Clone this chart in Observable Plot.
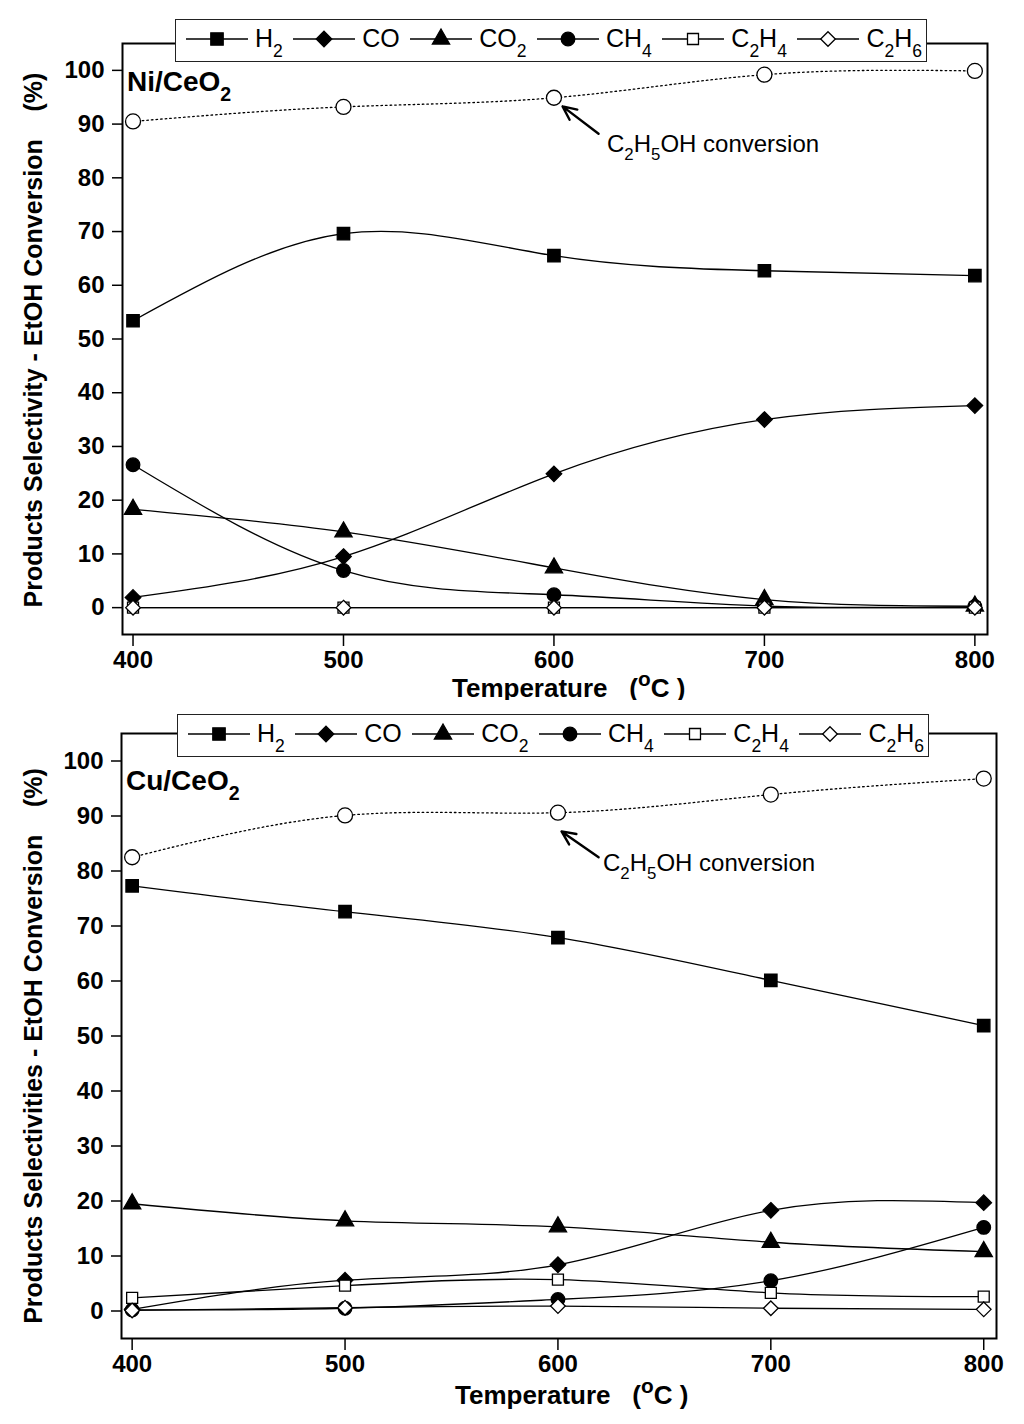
<!DOCTYPE html>
<html>
<head>
<meta charset="utf-8">
<script src="https://cdn.jsdelivr.net/npm/d3@7"></script>
<script src="https://cdn.jsdelivr.net/npm/@observablehq/plot@0.6"></script>
<style>
  body { margin: 0; background: #fff; color: #000; font-family: "Liberation Sans", Arial, sans-serif; }
  #page { position: relative; width: 1024px; height: 1424px; overflow: hidden; background: #fff; }
  .panel { position: absolute; left: 0; width: 1024px; }
  .panel svg { display: block; }
  .txt { position: absolute; line-height: 1; white-space: pre; }
  .sub { position: relative; font-size: 0.7em; top: 0.5em; }
  .sup { position: relative; font-size: 0.8em; top: -0.55em; }
  .legend {
    position: absolute; box-sizing: border-box; height: 43px; width: 752px;
    border: 1.5px solid #222; background: #fff;
    display: flex; align-items: center; justify-content: space-between;
    padding: 0 4px 4px 10px; font-size: 25px;
  }
  .legend .item { display: flex; align-items: center; }
  .legend svg { display: block; overflow: visible; }
  .legend .lab { margin-left: 7px; line-height: 1; white-space: nowrap; }
  .legend .sub { top: 0.55em; }
  .ytitle {
    position: absolute; font-weight: bold; font-size: 25px; line-height: 1; white-space: pre;
    transform: translate(-50%, -50%) rotate(-90deg);
  }
</style>
</head>
<body>
<div id="page"></div>
<script>
// Temperature axis shared by both panels (°C).
const temps = [400, 500, 600, 700, 800];
const xTicks = [400, 500, 600, 700, 800];
const yTicks = [0, 10, 20, 30, 40, 50, 60, 70, 80, 90, 100];

const seriesNames = ["H2", "CO", "CO2", "CH4", "C2H4", "C2H6"];
const seriesLabels = [
  "H<span class=sub>2</span>",
  "CO",
  "CO<span class=sub>2</span>",
  "CH<span class=sub>4</span>",
  "C<span class=sub>2</span>H<span class=sub>4</span>",
  "C<span class=sub>2</span>H<span class=sub>6</span>"
];

// Ni/CeO2 selectivities (%)
const niH2 = [53.4, 69.6, 65.5, 62.7, 61.8];
const niCO = [1.9, 9.5, 24.9, 35.0, 37.6];
const niCO2 = [18.3, 14.1, 7.4, 1.5, 0.3];
const niCH4 = [26.6, 6.9, 2.4, 0.3, 0.2];
const niC2H4 = [0, 0, 0, 0, 0];
const niC2H6 = [0, 0, 0, 0, 0];
const niConv = [90.5, 93.2, 94.9, 99.2, 99.9];

// Cu/CeO2 selectivities (%)
const cuH2 = [77.3, 72.6, 67.9, 60.1, 51.9];
const cuCO = [0.3, 5.6, 8.4, 18.3, 19.7];
const cuCO2 = [19.5, 16.4, 15.3, 12.5, 10.8];
const cuCH4 = [0.2, 0.5, 2.1, 5.5, 15.2];
const cuC2H4 = [2.4, 4.6, 5.7, 3.3, 2.6];
const cuC2H6 = [0.1, 0.6, 0.9, 0.5, 0.3];
const cuConv = [82.5, 90.1, 90.6, 93.9, 96.8];

// Arrow pointing at the "C2H5OH conversion" curve (data units).
const niArrow = [{ x1: 621.2, y1: 88.2, x2: 604.1, y2: 93.3 }];
const cuArrow = [{ x1: 619.1, y1: 82.5, x2: 601.7, y2: 87.2 }];

// marker look per series: Plot symbol name, fill, radius
const markers = [
  { symbol: "square", fill: "black", r: 7 },
  { symbol: "diamond2", fill: "black", r: 7 },
  { symbol: "triangle", fill: "black", r: 6.4 },
  { symbol: "circle", fill: "black", r: 6.8 },
  { symbol: "square", fill: "white", r: 6.2 },
  { symbol: "diamond2", fill: "white", r: 6.6 }
];
const d3Symbols = {
  square: d3.symbolSquare, diamond2: d3.symbolDiamond2,
  triangle: d3.symbolTriangle, circle: d3.symbolCircle
};

const FONT = '"Liberation Sans", Arial, sans-serif';
const page = document.getElementById("page");

function tidy(cols) {
  const rows = [];
  cols.forEach((vals, i) => {
    vals.forEach((v, j) => rows.push({ series: seriesNames[i], t: temps[j], v }));
  });
  return rows;
}

function place(parent, cls, html, css) {
  const el = document.createElement("div");
  el.className = cls;
  el.innerHTML = html;
  Object.assign(el.style, css);
  parent.appendChild(el);
  return el;
}

// text whose baseline sits at y (line-height 1)
function textAt(parent, html, x, baseline, size, weight) {
  return place(parent, "txt", html, {
    left: x + "px", top: (baseline - 0.846 * size) + "px",
    fontSize: size + "px", fontWeight: weight || "normal"
  });
}

function legend(parent, left, top) {
  const box = place(parent, "legend", "", { left: left + "px", top: top + "px" });
  seriesNames.forEach((name, i) => {
    const m = markers[i];
    const item = document.createElement("div");
    item.className = "item";
    const svg = d3.create("svg").attr("width", 62).attr("height", 26);
    svg.append("line").attr("x1", 0).attr("x2", 62).attr("y1", 13).attr("y2", 13)
      .attr("stroke", "black").attr("stroke-width", 1.3);
    svg.append("path")
      .attr("d", d3.symbol(d3Symbols[m.symbol], Math.PI * m.r * m.r)())
      .attr("transform", "translate(31,13)")
      .attr("fill", m.fill).attr("stroke", "black").attr("stroke-width", 1.3);
    item.appendChild(svg.node());
    const lab = document.createElement("span");
    lab.className = "lab";
    lab.innerHTML = seriesLabels[i];
    item.appendChild(lab);
    box.appendChild(item);
  });
}

function chart(rows, conv, arrow, m) {
  const convRows = temps.map((t, i) => ({ t, v: conv[i] }));
  const dots = seriesNames.map((name, i) =>
    Plot.dot(rows.filter((d) => d.series === name), {
      x: "t", y: "v", symbol: markers[i].symbol, r: markers[i].r,
      fill: markers[i].fill, stroke: "black", strokeWidth: 1.3
    })
  );
  return Plot.plot({
    width: 1024,
    height: m.height,
    marginTop: m.top, marginBottom: m.bottom, marginLeft: m.left, marginRight: m.right,
    style: { fontFamily: FONT, fontSize: "24px", fontWeight: "bold", background: "white", overflow: "visible", color: "black" },
    x: { domain: [395, 806] },
    y: { domain: [-5, 105] },
    marks: [
      Plot.axisY({ ticks: yTicks, tickSize: 10, tickPadding: 8, label: null, strokeWidth: 1.5 }),
      Plot.axisX({ ticks: xTicks, tickSize: 12, tickPadding: 4, label: null, strokeWidth: 1.5 }),
      Plot.lineY(convRows, { x: "t", y: "v", curve: "natural", stroke: "black", strokeWidth: 1.3, strokeDasharray: "1.6,3" }),
      Plot.lineY(rows, { x: "t", y: "v", z: "series", curve: "natural", stroke: "black", strokeWidth: 1.3 }),
      ...dots,
      Plot.dot(convRows, { x: "t", y: "v", r: 7.5, fill: "white", stroke: "black", strokeWidth: 1.3 }),
      Plot.arrow(arrow, { x1: "x1", y1: "y1", x2: "x2", y2: "y2", stroke: "black", strokeWidth: 2.4, headLength: 13, headAngle: 50 }),
      Plot.frame({ stroke: "black", strokeWidth: 2 })
    ]
  });
}

function panel(top, cfg) {
  const div = place(page, "panel", "", { top: top + "px", height: cfg.m.height + "px" });
  div.appendChild(chart(tidy(cfg.cols), cfg.conv, cfg.arrow, cfg.m));
  legend(div, cfg.legendX, cfg.legendY);
  textAt(div, cfg.name, cfg.nameX, cfg.nameY, 28, "bold");
  textAt(div, "C<span class=sub>2</span>H<span class=sub>5</span>OH conversion", cfg.noteX, cfg.noteY, 24);
  textAt(div, "Temperature   (<span class=sup>o</span>C )", cfg.tempX, cfg.tempY, 26, "bold");
  place(div, "ytitle", cfg.ytitle, { left: "33px", top: cfg.ytitleY + "px" });
}

panel(0, {
  cols: [niH2, niCO, niCO2, niCH4, niC2H4, niC2H6], conv: niConv, arrow: niArrow,
  m: { height: 700, top: 43, bottom: 66, left: 122, right: 37 },
  legendX: 175, legendY: 19,
  name: "Ni/CeO<span class=sub>2</span>", nameX: 127, nameY: 92,
  noteX: 607, noteY: 152,
  tempX: 452, tempY: 697,
  ytitle: "Products Selectivity - EtOH Conversion    (%)", ytitleY: 340
});

panel(700, {
  cols: [cuH2, cuCO, cuCO2, cuCH4, cuC2H4, cuC2H6], conv: cuConv, arrow: cuArrow,
  m: { height: 724, top: 33, bottom: 86, left: 121, right: 28 },
  legendX: 177, legendY: 14,
  name: "Cu/CeO<span class=sub>2</span>", nameX: 126, nameY: 91,
  noteX: 603, noteY: 171,
  tempX: 455, tempY: 704,
  ytitle: "Products Selectivities - EtOH Conversion    (%)", ytitleY: 346
});
</script>
</body>
</html>
